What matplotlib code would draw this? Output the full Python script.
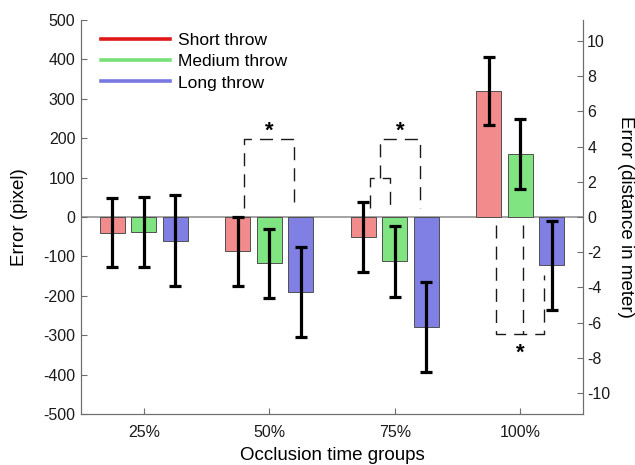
import numpy as np
import matplotlib
matplotlib.use('Agg')
from matplotlib import pyplot as plt
from matplotlib.lines import Line2D

plt.rcParams['font.family'] = ['Liberation Sans', 'DejaVu Sans']
plt.rcParams['axes.unicode_minus'] = False

groups = ['25%', '50%', '75%', '100%']
series = ['Short throw', 'Medium throw', 'Long throw']

short_throw = [-40, -87, -51, 320]
medium_throw = [-38, -118, -112, 160]
long_throw = [-60, -191, -280, -123]

short_err = [88, 88, 88, 87]
medium_err = [88, 88, 90, 88]
long_err = [116, 114, 114, 114]

# significance brackets (left axis units)
sig_top = 199
sig_inner_top = 99
sig_foot = 23
sig_low = -298
sig_low_feet = [-21, -21, -146]

meter_lim = 11.2

bar_colors = ['#f28b8b', '#80e480', '#8080e4']
line_colors = ['#e01818', '#78e078', '#7878e0']
spine_color = '#6e6e6e'

fig = plt.figure(figsize=(6.35, 4.65), dpi=100)
ax = fig.add_axes([0.1276, 0.1097, 0.7906, 0.8473])

x = np.arange(1, len(groups) + 1)
offsets = [-0.25, 0, 0.25]
values = [short_throw, medium_throw, long_throw]
errors = [short_err, medium_err, long_err]

ax.axhline(0, color='#8a8a8a', lw=1.1, zorder=1)
for off, vals, errs, col in zip(offsets, values, errors, bar_colors):
	ax.bar(x + off, vals, width=0.2, color=col, edgecolor='#505050', lw=0.7, zorder=2)
	ax.errorbar(x + off, vals, yerr=errs, fmt='none', ecolor='black',
		elinewidth=2.3, capsize=4.3, capthick=2.3, zorder=3)

dash_kw = dict(color='#1a1a1a', lw=1.0, dashes=(9.4, 5.8), zorder=4)
star_kw = dict(ha='center', fontsize=16, fontweight='bold', color='black', zorder=5)

# 50%: short vs long
l, r = x[1] - 0.25 + 0.05, x[1] + 0.25 - 0.05
ax.plot([l, l, r, r], [sig_foot, sig_top, sig_top, sig_foot], **dash_kw)
ax.annotate('*', ((l + r) / 2, sig_top), xytext=(0, -2), textcoords='offset points', va='bottom', **star_kw)

# 75%: short vs medium, then long
l, m = x[2] - 0.25 + 0.05, x[2] - 0.04
r = x[2] + 0.25 - 0.05
c = (l + m) / 2
ax.plot([l, l, m, m], [sig_foot, sig_inner_top, sig_inner_top, sig_foot], **dash_kw)
ax.plot([c, c, r, r], [sig_inner_top, sig_top, sig_top, sig_foot], **dash_kw)
ax.annotate('*', ((c + r) / 2, sig_top), xytext=(0, -2), textcoords='offset points', va='bottom', **star_kw)

# 100%: long vs short and medium
l, m, r = x[3] - 0.25 + 0.06, x[3] + 0.02, x[3] + 0.25 - 0.065
ax.plot([l, l, r, r], [sig_low_feet[0], sig_low, sig_low, sig_low_feet[2]], **dash_kw)
ax.plot([m, m], [sig_low_feet[1], sig_low], **dash_kw)
ax.annotate('*', ((l + r) / 2, sig_low), xytext=(0, -6), textcoords='offset points', va='top', **star_kw)

ax.set_xlim(0.5, 4.5)
ax.set_ylim(-500, 500)
ax.set_yticks(np.arange(-500, 501, 100))
ax.set_xticks(x)
ax.set_xticklabels(groups)
ax.tick_params(direction='in', length=4, color=spine_color, labelsize=11.5, labelcolor='#1a1a1a')
ax.tick_params(axis='x', pad=8)
ax.tick_params(axis='y', pad=4)
ax.spines['top'].set_visible(False)
for s in ['left', 'bottom', 'right']:
	ax.spines[s].set_color(spine_color)

ax2 = ax.twinx()
ax2.set_ylim(-meter_lim, meter_lim)
ax2.set_yticks(np.arange(-10, 11, 2))
ax2.tick_params(direction='in', length=4, color=spine_color, labelsize=11.5, labelcolor='#1a1a1a', pad=3)
ax2.spines['top'].set_visible(False)
for s in ['left', 'bottom', 'right']:
	ax2.spines[s].set_color(spine_color)

ax.set_xlabel('Occlusion time groups', fontsize=13.5)
ax.xaxis.set_label_coords(0.5, -0.085)
ax.set_ylabel('Error (pixel)', fontsize=13.5)
ax.yaxis.set_label_coords(-0.106, 0.5)
ax2.set_ylabel('Error (distance in meter)', fontsize=13.5, rotation=270, va='center')
ax2.yaxis.set_label_coords(1.0837, 0.5)

handles = [Line2D([0], [0], color=c, lw=2.6) for c in line_colors]
ax.legend(handles, series, loc='upper left', bbox_to_anchor=(0.039, 0.968), frameon=False,
	fontsize=12.5, handlelength=4.0, handletextpad=0.45, labelspacing=0.36,
	borderpad=0, borderaxespad=0)

fig.savefig('out.png', dpi=100)
